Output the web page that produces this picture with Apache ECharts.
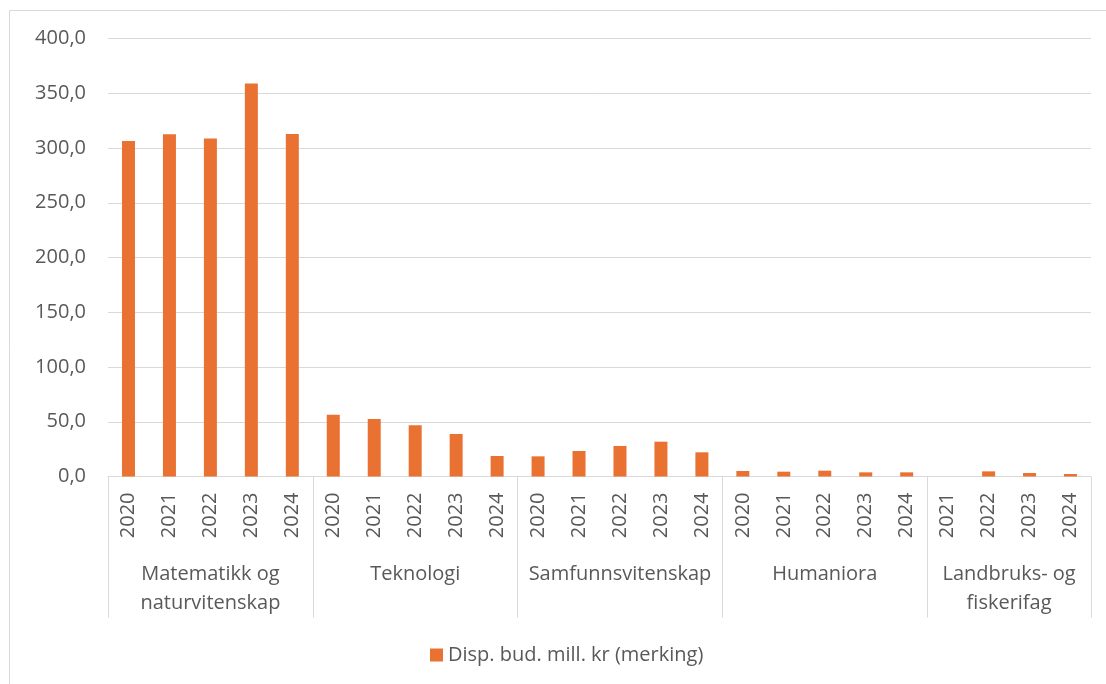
<!DOCTYPE html>
<html>
<head>
<meta charset="utf-8">
<script src="https://cdn.jsdelivr.net/npm/echarts@6/dist/echarts.min.js"></script>
<style>
  html, body { margin: 0; padding: 0; background: #fff; }
  #chart { width: 1106px; height: 684px; }
</style>
</head>
<body>
<div id="chart"></div>
<script>
// ---- data ----
const groups = ['Matematikk og\nnaturvitenskap', 'Teknologi', 'Samfunnsvitenskap', 'Humaniora', 'Landbruks- og\nfiskerifag'];
const groupYears = [
  ['2020', '2021', '2022', '2023', '2024'],
  ['2020', '2021', '2022', '2023', '2024'],
  ['2020', '2021', '2022', '2023', '2024'],
  ['2020', '2021', '2022', '2023', '2024'],
  ['2021', '2022', '2023', '2024']
];
const matNat = [306.4, 312.6, 308.7, 358.8, 312.8];
const teknologi = [56.4, 52.5, 46.8, 38.8, 18.7];
const samfunn = [18.4, 23.3, 27.9, 31.8, 22.1];
const humaniora = [5.0, 4.4, 5.3, 3.8, 3.8];
const landbruk = [null, 4.7, 3.2, 2.3];
const seriesName = 'Disp. bud. mill. kr (merking)';
const yTicks = [0, 50, 100, 150, 200, 250, 300, 350, 400];

// ---- build ----
const groupValues = [matNat, teknologi, samfunn, humaniora, landbruk];
const categories = [];
const values = [];
const groupStarts = [];
const groupCenters = {};
let idx = 0;
groupYears.forEach((yrs, g) => {
  groupStarts.push(idx);
  groupCenters[(idx + yrs.length / 2).toFixed(1)] = groups[g];
  yrs.forEach((y, i) => { categories.push(y); values.push(groupValues[g][i]); });
  idx += yrs.length;
});
const total = categories.length;

const FONT = 'Open Sans';
const TXT = '#595959';
const GRID = '#D9D9D9';
const FS = 20;

const chart = echarts.init(document.getElementById('chart'), null, { renderer: 'canvas' });
chart.setOption({
  animation: false,
  backgroundColor: '#ffffff',
  textStyle: { fontFamily: FONT },
  grid: { left: 108, right: 15, top: 38.5, bottom: 207.5, containLabel: false },
  graphic: [
    { type: 'polyline', shape: { points: [[9.5, 700], [9.5, 10.5], [1120, 10.5]] },
      style: { stroke: '#D9D9D9', lineWidth: 1, fill: null }, silent: true }
  ],
  legend: {
    data: [seriesName],
    left: 430, top: 645, padding: 0,
    icon: 'rect', itemWidth: 13, itemHeight: 13, itemGap: 10,
    textStyle: { color: TXT, fontSize: FS, fontFamily: FONT }
  },
  xAxis: [
    {
      type: 'category',
      data: categories,
      position: 'bottom',
      axisLine: { show: true, lineStyle: { color: GRID, width: 1 } },
      axisTick: {
        show: true, length: 141,
        interval: (i) => groupStarts.indexOf(i) >= 0,
        lineStyle: { color: GRID, width: 1 }
      },
      axisLabel: {
        interval: 0, rotate: 90, margin: 16,
        color: TXT, fontSize: FS, fontFamily: FONT
      },
      splitLine: { show: false }
    },
    {
      type: 'value',
      position: 'bottom',
      min: 0, max: total, interval: 0.5,
      axisLine: { show: false },
      axisTick: { show: false },
      splitLine: { show: false },
      axisLabel: {
        show: true, margin: 83, verticalAlign: 'top', lineHeight: 29,
        color: TXT, fontSize: FS, fontFamily: FONT, align: 'center',
        showMinLabel: true, showMaxLabel: true,
        formatter: (v) => groupCenters[Number(v).toFixed(1)] || ''
      }
    }
  ],
  yAxis: {
    type: 'value',
    min: yTicks[0], max: yTicks[yTicks.length - 1], interval: yTicks[1] - yTicks[0],
    axisLine: { show: false },
    axisTick: { show: false },
    splitLine: { show: true, lineStyle: { color: GRID, width: 1 } },
    axisLabel: {
      margin: 22, color: TXT, fontSize: FS, fontFamily: FONT,
      formatter: (v) => v.toFixed(1).replace('.', ',')
    }
  },
  series: [{
    name: seriesName,
    type: 'bar',
    xAxisIndex: 0,
    data: values,
    barWidth: 13,
    itemStyle: { color: '#E97132' }
  }]
});
</script>
</body>
</html>
